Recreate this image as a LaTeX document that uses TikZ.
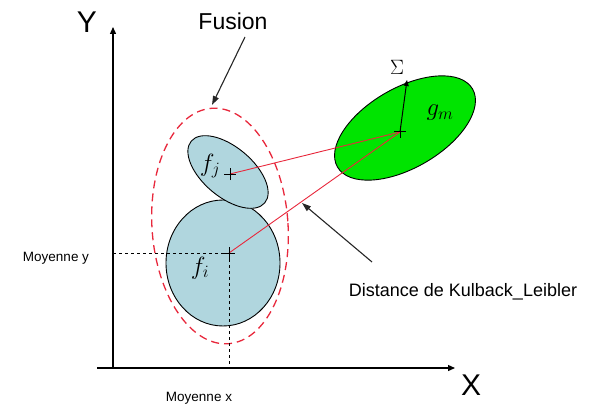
\documentclass[tikz,border=0pt]{standalone}
\usepackage{fontspec}
\setmainfont{Liberation Sans}
\usetikzlibrary{arrows.meta}
\definecolor{lightcyan}{RGB}{176,214,222}
\definecolor{brightgreen}{RGB}{0,228,0}
\definecolor{klred}{RGB}{232,40,60}
\tikzset{
  axis/.style={line width=1.3pt,-{Triangle[length=7pt,width=6pt]}},
  pointer/.style={line width=1.1pt,black!85,-{Triangle[length=9pt,width=6pt]}},
  guide/.style={dashed,line width=0.9pt},
  plusmark/.style={line width=1pt},
}
\newcommand{\plusat}[1]{\draw[plusmark] ([xshift=-6pt]#1) -- ([xshift=6pt]#1) ([yshift=-6pt]#1) -- ([yshift=6pt]#1);}
\begin{document}
\begin{tikzpicture}[x=1pt,y=1pt]
        \useasboundingbox (0,0) rectangle (593,410);
        % centres
        \coordinate (ci) at (229,157);
        \coordinate (cj) at (230,236);
        \coordinate (cm) at (400,278);
        % fusion ellipse
        \draw [klred,dashed,line width=1.3pt,dash pattern=on 8pt off 5pt] (220,184) ellipse[x radius=68,y radius=118,rotate=4];
        % densities
        \draw [fill=lightcyan,line width=0.9pt] (223,147) ellipse[x radius=57,y radius=63];
        \draw [fill=lightcyan,line width=0.9pt] (228,238) ellipse[x radius=48,y radius=25,rotate=-40];
        \draw [fill=brightgreen,line width=0.9pt] (405,282) ellipse[x radius=78,y radius=40,rotate=30];
        % guides
        \coordinate (ox) at (ci |- 0,42);
        \coordinate (oy) at (113,157);
        \draw [guide] (oy) -- (ci);
        \draw [guide] (ci) -- (ox);
        % axes
        \draw [axis] (113,42) -- (113,383);
        \draw [axis] (97,42) -- (455,42);
        \node at (87,388) {\fontsize{30}{30}\selectfont Y};
        \node at (471,25) {\fontsize{30}{30}\selectfont X};
        \node at (199,12) {\fontsize{13.5}{13.5}\selectfont Moyenne x};
        \node at (56,152) {\fontsize{13.5}{13.5}\selectfont Moyenne y};
        % distances
        \draw [klred,line width=0.9pt] (cm) -- (cj);
        \draw [klred,line width=0.9pt] (cm) -- (ci);
        \plusat{ci}
        \plusat{cj}
        \plusat{cm}
        \node at (200,142) {\fontsize{24}{24}\selectfont $f_i$};
        \node at (210,244) {\fontsize{24}{24}\selectfont $f_j$};
        \node at (440,297) {\fontsize{24}{24}\selectfont $g_m$};
        % covariance
        \coordinate (sigtip) at (407,330);
        \draw [line width=1pt,-{Triangle[length=6pt,width=5pt]}] (cm) -- (sigtip);
        \node (sigma) at (397,343) {\fontsize{20}{20}\selectfont $\Sigma$};
        % labels
        \node (fusion) at (233,389) {\fontsize{23}{23}\selectfont Fusion};
        \coordinate (fusiontip) at (212,305);
        \draw [pointer] (fusion.south) ++(12,-4) -- (fusiontip);
        \node (kl) at (463,118) {\fontsize{18}{18}\selectfont Distance de Kulback\_Leibler};
        \coordinate (kltip) at (302,207);
        \draw [pointer] (372,148) -- (kltip);
\end{tikzpicture}
\end{document}
